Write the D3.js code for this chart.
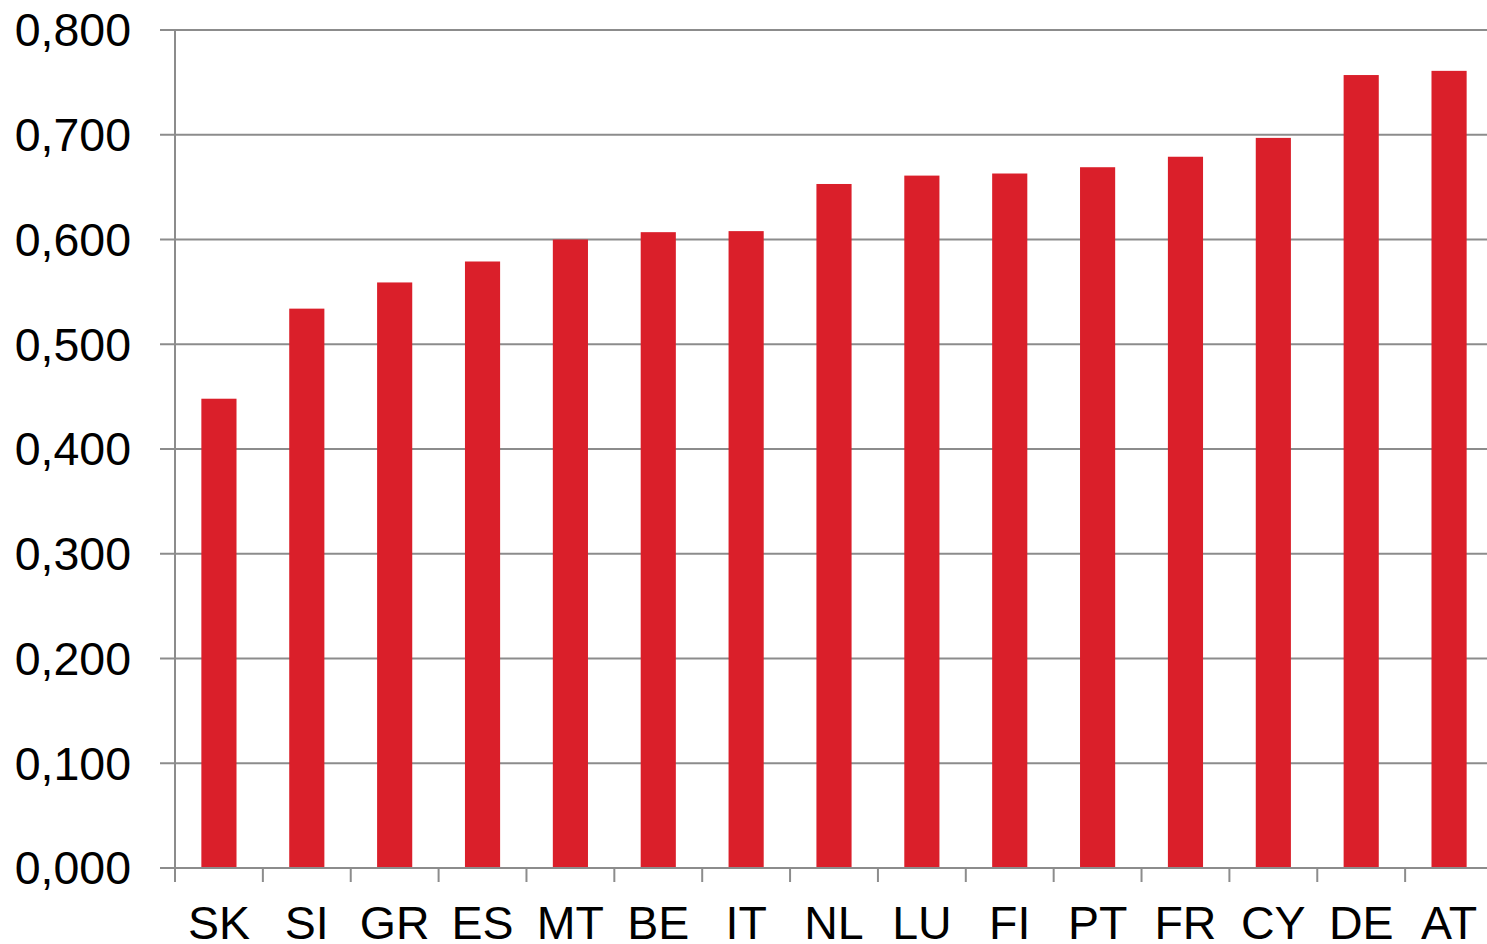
<!DOCTYPE html>
<html><head><meta charset="utf-8">
<script src="https://cdn.jsdelivr.net/npm/d3@7"></script>
<style>body{margin:0;background:#fff;} svg{display:block;}</style>
</head><body>
<svg id="c" width="1487" height="944"></svg>
<script>
const categories = ["SK","SI","GR","ES","MT","BE","IT","NL","LU","FI","PT","FR","CY","DE","AT"];
const values = [0.448,0.534,0.559,0.579,0.600,0.607,0.608,0.653,0.661,0.663,0.669,0.679,0.697,0.757,0.761];
const yTicks = [0,0.1,0.2,0.3,0.4,0.5,0.6,0.7,0.8];

(function () {
const svg = d3.select("#c");
const mLeft = 175, mRight = 1493, mTop = 30, mBottom = 868;
const grid = "#8c8c8c";
const font = "'Liberation Sans', Arial, sans-serif";

const x = d3.scaleBand().domain(categories).range([mLeft, mRight]).paddingInner(0.6).paddingOuter(0.3);
const y = d3.scaleLinear().domain([0, 0.8]).range([mBottom, mTop]);
const fmt = v => d3.format(".3f")(v).replace(".", ",");
const step = x.step();

// gridlines
svg.append("g").selectAll("line").data(yTicks).join("line")
  .attr("x1", mLeft - 15).attr("x2", 1487)
  .attr("y1", d => y(d)).attr("y2", d => y(d))
  .attr("stroke", grid).attr("stroke-width", 2);

// bars
svg.append("g").selectAll("rect").data(values).join("rect")
  .attr("x", (d, i) => x(categories[i]))
  .attr("width", x.bandwidth())
  .attr("y", d => y(d))
  .attr("height", d => y(0) - y(d))
  .attr("fill", "#da1f2a");

// y axis line
svg.append("line").attr("x1", mLeft).attr("x2", mLeft).attr("y1", mTop).attr("y2", mBottom + 14)
  .attr("stroke", grid).attr("stroke-width", 2);

// x axis line
svg.append("line").attr("x1", mLeft - 15).attr("x2", 1487).attr("y1", mBottom).attr("y2", mBottom)
  .attr("stroke", grid).attr("stroke-width", 2);

// x ticks at category boundaries
svg.append("g").selectAll("line").data(d3.range(1, categories.length)).join("line")
  .attr("x1", i => mLeft + i * step).attr("x2", i => mLeft + i * step)
  .attr("y1", mBottom).attr("y2", mBottom + 14)
  .attr("stroke", grid).attr("stroke-width", 2);

// y labels
svg.append("g").selectAll("text").data(yTicks).join("text")
  .attr("x", 131).attr("y", d => y(d)).attr("dy", "0.35em")
  .attr("text-anchor", "end")
  .attr("font-family", font).attr("font-size", 46.5).attr("fill", "#000")
  .text(fmt);

// x labels
svg.append("g").selectAll("text").data(categories).join("text")
  .attr("x", d => x(d) + x.bandwidth() / 2).attr("y", 939)
  .attr("text-anchor", "middle")
  .attr("font-family", font).attr("font-size", 46.5).attr("fill", "#000")
  .text(d => d);
})();
</script>
</body></html>
